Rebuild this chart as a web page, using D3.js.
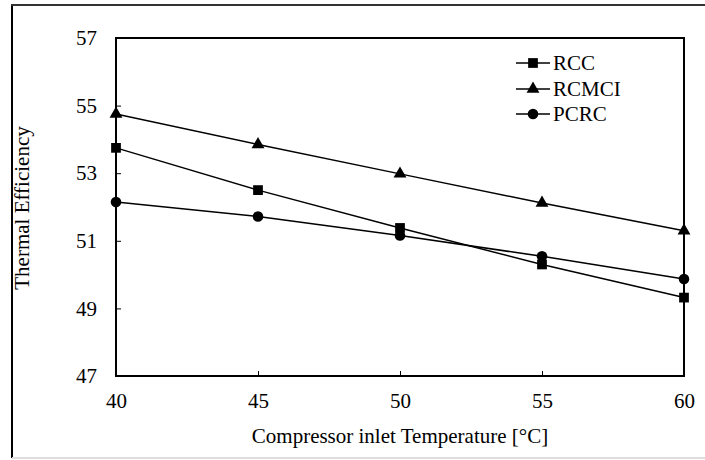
<!DOCTYPE html>
<html><head><meta charset="utf-8">
<script src="https://cdn.jsdelivr.net/npm/d3@7"></script>
<style>body{margin:0;background:#fff}svg{display:block}
svg text{font-family:"Liberation Serif","Times New Roman",Times,serif !important;fill:#000}</style>
</head><body><svg id="c" width="705" height="460"></svg>
<script>
const temps = [40, 45, 50, 55, 60];
const rcc   = [53.75, 52.5, 51.38, 50.3, 49.32];
const rcmci = [54.75, 53.85, 52.98, 52.12, 51.3];
const pcrc  = [52.15, 51.72, 51.16, 50.54, 49.87];
const seriesNames = ["RCC", "RCMCI", "PCRC"];
const xTicks = [40, 45, 50, 55, 60];
const yTicks = [47, 49, 51, 53, 55, 57];

const svg = d3.select("#c");
const fs = 21;
const L = 116, R = 684, T = 38, B = 376;
const x = d3.scaleLinear().domain([40, 60]).range([L, R]);
const y = d3.scaleLinear().domain([47, 57]).range([B, T]);

// outer frame
svg.append("line").attr("x1",12).attr("x2",12).attr("y1",4).attr("y2",458).attr("stroke","#000").attr("stroke-width",2);
svg.append("line").attr("x1",11).attr("x2",705).attr("y1",5).attr("y2",5).attr("stroke","#333").attr("stroke-width",2);
svg.append("line").attr("x1",12).attr("x2",705).attr("y1",458).attr("y2",458).attr("stroke","#ddd").attr("stroke-width",2);

// axes with inner ticks
const yAxis = d3.axisLeft(y).tickValues(yTicks).tickSize(-5).tickPadding(19).tickFormat(d3.format("d"));
const xAxis = d3.axisBottom(x).tickValues(xTicks).tickSize(-5).tickPadding(17).tickFormat(d3.format("d"));
const gy = svg.append("g").attr("transform",`translate(${L},0)`).call(yAxis);
const gx = svg.append("g").attr("transform",`translate(0,${B})`).call(xAxis);
[gy,gx].forEach(g=>{
  g.attr("font-family",null).attr("font-size",null);
  g.select(".domain").remove();
  g.selectAll(".tick line").attr("stroke","#000").attr("stroke-width",1);
  g.selectAll("text").attr("font-size",fs).attr("fill","#000");
});
// plot box
svg.append("rect").attr("x",L).attr("y",T).attr("width",R-L).attr("height",B-T)
  .attr("fill","none").attr("stroke","#000").attr("stroke-width",2);

const data = [rcc, rcmci, pcrc];
const symbols = [d3.symbolSquare, d3.symbolTriangle, d3.symbolCircle];
const sizes = [95, 72, 88];
const line = d3.line().x((d,i)=>x(temps[i])).y(d=>y(d));
data.forEach((s,k)=>{
  svg.append("path").attr("d",line(s)).attr("fill","none").attr("stroke","#000").attr("stroke-width",1.5);
  svg.selectAll(null).data(s).enter().append("path")
    .attr("d",d3.symbol().type(symbols[k]).size(sizes[k]))
    .attr("transform",(d,i)=>`translate(${x(temps[i])},${y(d)})`).attr("fill","#000");
});

// legend
const ly = [63, 89, 114];
seriesNames.forEach((n,k)=>{
  svg.append("line").attr("x1",516).attr("x2",550).attr("y1",ly[k]).attr("y2",ly[k]).attr("stroke","#000").attr("stroke-width",1.5);
  svg.append("path").attr("d",d3.symbol().type(symbols[k]).size(sizes[k])).attr("transform",`translate(533,${ly[k]})`).attr("fill","#000");
  svg.append("text").attr("x",553).attr("y",ly[k]).attr("dy","0.35em").attr("font-size",fs).text(n);
});

// titles
svg.append("text").attr("x",400).attr("y",443).attr("text-anchor","middle").attr("font-size",fs).text("Compressor inlet Temperature [°C]");
svg.append("text").attr("transform","translate(29,208) rotate(-90)").attr("text-anchor","middle").attr("font-size",fs).text("Thermal Efficiency");
</script></body></html>
